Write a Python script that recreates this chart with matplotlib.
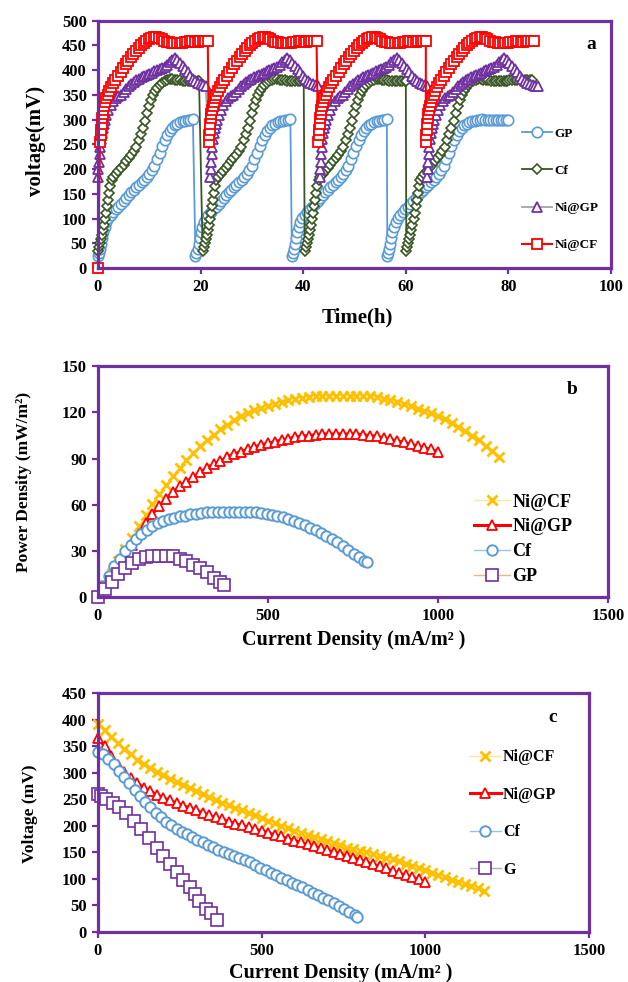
import matplotlib
matplotlib.use("Agg")
import matplotlib.pyplot as plt

plt.rcParams["font.family"] = ["Liberation Serif", "DejaVu Serif"]
plt.rcParams["font.weight"] = "bold"

PURPLE = "#7030A0"
BLUE = "#5B9BD5"
GREEN = "#375623"
RED = "#FF0000"
GOLD = "#FFC000"

# ---------------- panel a : cycling voltage vs time ----------------
# one cycle for every electrode (time relative to cycle start)
gp_rel_t = [0, 0.2, 0.4, 0.6, 0.8, 1.0, 1.3, 1.6, 2.0, 2.5, 3.0, 3.5, 4.0, 4.5, 5.0,
            5.5, 6.0, 6.5, 7.0, 7.5, 8.0, 8.5, 9.0, 9.5, 10.0, 10.5, 11.0, 11.5, 12.0,
            12.5, 13.0, 13.5, 14.0, 14.5, 15.0, 15.5, 16.0, 16.5, 17.0, 17.5, 18.0, 18.5]
gp_rel_v = [25, 30, 38, 48, 60, 72, 84, 94, 102, 108, 114, 119, 124, 130, 136,
            142, 148, 153, 158, 163, 168, 173, 178, 184, 190, 198, 207, 220, 233,
            246, 258, 268, 277, 284, 289, 292, 295, 297, 298, 299, 300, 301]
gp_starts = [0, 19.0, 37.8, 56.4]
gp_tail_t = [75.5, 76, 76.5, 77, 77.5, 78, 78.5, 79, 79.5, 80]
gp_tail_v = [300, 300, 300, 300, 300, 300, 300, 300, 300, 300]

cf_rel_t = [0, 0.2, 0.4, 0.6, 0.8, 1.0, 1.2, 1.4, 1.6, 1.8, 2.0, 2.2, 2.4, 2.7, 3.0,
            3.5, 4.0, 4.5, 5.0, 5.5, 6.0, 6.5, 7.0, 7.5, 8.0, 8.4, 8.8, 9.2, 9.6, 10.0,
            10.4, 10.8, 11.2, 11.6, 12.0, 12.5, 13.0, 13.5, 14.0, 14.5, 15.0, 15.5,
            16.0, 16.5, 17.0, 17.5, 18.0, 18.5, 19.0, 19.5, 19.7]
cf_rel_v = [35, 42, 50, 58, 67, 77, 88, 100, 112, 125, 138, 152, 165, 177, 184,
            190, 196, 202, 209, 216, 222, 229, 236, 245, 258, 270, 284, 298, 313, 328,
            340, 350, 358, 364, 369, 374, 378, 381, 383, 382, 381, 380,
            380, 379, 379, 378, 378, 378, 378, 378, 378]
cf_starts = [0, 20.4, 40.3, 60.1]
cf_tail_t = [80.2, 80.7, 81.2, 81.7, 82.2, 82.7, 83.2, 83.7, 84.2, 84.6]
cf_tail_v = [380, 380, 380, 380, 380, 380, 380, 380, 380, 380]

nigp_rel_t = [0, 0.1, 0.2, 0.3, 0.4, 0.55, 0.7, 0.9, 1.1, 1.3, 1.6, 2.0, 2.5, 3.0,
              3.5, 4.0, 4.5, 5.0, 5.5, 6.0, 6.5, 7.0, 7.5, 8.0, 8.5, 9.0, 9.5, 10.0,
              10.5, 11.0, 11.5, 12.0, 12.5, 13.0, 13.5, 14.0, 14.5, 15.0, 15.5, 16.0,
              16.5, 17.0, 17.5, 18.0, 18.5, 19.0, 19.5, 20.0, 20.5, 21.0]
nigp_rel_v = [185, 200, 215, 230, 245, 260, 272, 283, 292, 300, 310, 320, 330, 338,
              343, 347, 350, 355, 362, 368, 372, 376, 380, 383, 386, 389, 391, 393,
              395, 398, 400, 402, 404, 407, 411, 416, 421, 424, 420, 414,
              408, 402, 396, 389, 383, 378, 374, 371, 369, 367]
nigp_starts = [0, 21.9, 43.2, 64.2]
nigp_tail_t = [85.7]
nigp_tail_v = [367]

nicf_rel_t = [0, 0.1, 0.2, 0.3, 0.4, 0.5, 0.65, 0.8, 1.0, 1.2, 1.5, 1.8, 2.2, 2.6,
              3.0, 3.5, 4.0, 4.5, 5.0, 5.5, 6.0, 6.5, 7.0, 7.5, 8.0, 8.5, 9.0, 9.5,
              10.0, 10.5, 11.0, 11.5, 12.0, 12.5, 13.0, 13.5, 14.0, 14.5, 15.0, 15.5,
              16.0, 16.5, 17.0, 17.5, 18.0, 18.5, 19.0, 19.5, 20.0, 20.5, 21.0]
nicf_rel_v = [255, 268, 280, 292, 303, 312, 320, 328, 336, 343, 350, 357, 365, 373,
              380, 389, 397, 405, 412, 419, 426, 432, 438, 444, 450, 455, 459, 462,
              465, 466, 466, 465, 462, 459, 457, 456, 455, 455, 454, 454,
              455, 456, 457, 458, 458, 457, 457, 458, 459, 459, 458]
nicf_starts = [0.4, 21.6, 42.9, 63.9]
nicf_lead_t = [0]
nicf_lead_v = [0]

# ---------------- panels b and c : polarisation ----------------
nicf_i = [0, 20, 40, 60, 80, 100, 120, 140, 160, 180,
          200, 220, 240, 260, 280, 300, 320, 340, 360, 380,
          400, 420, 440, 460, 480, 500, 520, 540, 560, 580,
          600, 620, 640, 660, 680, 700, 720, 740, 760, 780,
          800, 820, 840, 860, 880, 900, 920, 940, 960, 980,
          1000, 1020, 1040, 1060, 1080, 1100, 1120, 1140, 1160, 1180]
nicf_p = [0, 8, 15.5, 23.5, 31, 38.5, 46, 53.5, 60.5, 67,
          73, 78.5, 84, 89, 93.5, 98, 102, 105.5, 109, 112,
          115, 117.5, 119.5, 121.5, 123, 124.5, 125.5, 127, 128, 129,
          129.5, 130, 130.5, 130.5, 131, 131, 131, 131, 131, 131,
          130.5, 130, 129, 128, 127, 125.5, 124, 122.5, 121, 119.5,
          118, 115.5, 113, 110.5, 108, 105, 102, 98.5, 95, 91]
nicf_v = [393, 381, 368, 356, 345, 335, 325, 317, 309, 301,
          295, 289, 283, 277, 271, 266, 260, 255, 249, 244,
          239, 234, 229, 224, 220, 215, 210, 205, 200, 196,
          191, 187, 183, 179, 175, 171, 167, 163, 159, 156,
          153, 150, 147, 143, 140, 137, 133, 129, 125, 121,
          117, 112, 107, 103, 98, 94, 90, 86, 82, 78]

nigp_i = [0, 20, 40, 60, 80, 100, 120, 140, 160, 180,
          200, 220, 240, 260, 280, 300, 320, 340, 360, 380,
          400, 420, 440, 460, 480, 500, 520, 540, 560, 580,
          600, 620, 640, 660, 680, 700, 720, 740, 760, 780,
          800, 820, 840, 860, 880, 900, 920, 940, 960, 980, 1000]
nigp_p = [0, 7, 13.5, 20.5, 27, 34, 41, 48, 54, 59,
          64, 68, 72, 75, 78, 81, 84, 86.5, 88.5, 91,
          93, 94.5, 96, 97.5, 99, 100, 101, 102, 103, 104,
          104.5, 105, 105.5, 106, 106, 106, 106, 106, 106, 105.5,
          105, 104.5, 103.5, 102.5, 101.5, 100.5, 99.5, 98, 97, 96, 94.5]
nigp_v = [366, 350, 331, 315, 301, 290, 280, 272, 265, 259,
          253, 248, 243, 238, 234, 229, 225, 220, 216, 212,
          208, 204, 201, 197, 194, 190, 187, 183, 180, 176,
          172, 169, 165, 162, 158, 154, 151, 147, 143, 140,
          136, 132, 128, 124, 120, 115, 111, 107, 103, 99, 95]

cf_i = [0, 16, 32, 48, 64, 80, 96, 112, 128, 144,
        160, 176, 192, 208, 224, 240, 256, 272, 288, 304,
        320, 336, 352, 368, 384, 400, 416, 432, 448, 464,
        480, 496, 512, 528, 544, 560, 576, 592, 608, 624,
        640, 656, 672, 688, 704, 720, 736, 752, 768, 784, 792]
cf_p = [0, 7, 14, 20, 25, 30, 34, 38, 41, 43.5,
        46, 48, 49.5, 50.5, 51.5, 52.5, 53, 54, 54, 54.5,
        55, 55, 55.5, 55.5, 55.5, 55.5, 55.5, 55, 55, 55,
        54.5, 54, 53.5, 52.5, 52, 50.5, 49.5, 48, 47, 45,
        43.5, 41.5, 39.5, 37.5, 35.5, 33, 30.5, 28, 26, 23.5, 22.5]
cf_v = [340, 335, 327, 316, 304, 293, 281, 268, 256, 245,
        235, 225, 216, 208, 201, 195, 189, 184, 179, 174,
        169, 164, 160, 155, 151, 147, 143, 139, 135, 131,
        126, 121, 116, 112, 107, 102, 98, 93, 89, 84,
        79, 74, 69, 64, 60, 54, 48, 43, 37, 31, 29]

gp_i = [0, 20, 40, 60, 80, 100, 120, 140, 160, 180, 200, 220, 240, 260, 280, 300,
        320, 340, 360, 370]
gp_p = [0, 5, 10, 15, 19, 22, 24.5, 26, 26.5, 27, 27, 26.5, 25, 23.5, 21, 19, 16,
        12.5, 10, 8]

g_i = [0, 10, 25, 45, 65, 85, 110, 130, 155, 180, 200, 220, 240, 260, 280, 295, 310,
       330, 345, 365]
g_v = [260, 256, 250, 244, 236, 224, 210, 195, 178, 159, 144, 128, 113, 97, 84, 72,
       59, 44, 35, 22]


def join_cycles(starts, rel_t, rel_v, tail_t=(), tail_v=(), lead_t=(), lead_v=()):
    t, v = list(lead_t), list(lead_v)
    for s in starts:
        t += [s + x for x in rel_t]
        v += list(rel_v)
    return t + list(tail_t), v + list(tail_v)


def style_axes(ax):
    for sp in ax.spines.values():
        sp.set_color(PURPLE)
        sp.set_linewidth(2.3)
    ax.tick_params(direction="out", length=4, width=1.6, color=PURPLE,
                   labelsize=12, pad=4)
    for lab in ax.get_xticklabels() + ax.get_yticklabels():
        lab.set_fontweight("bold")


fig = plt.figure(figsize=(6.28, 9.82), dpi=100)
ax_a = fig.add_axes([0.156, 0.727, 0.817, 0.252])
ax_b = fig.add_axes([0.156, 0.392, 0.812, 0.235])
ax_c = fig.add_axes([0.156, 0.051, 0.782, 0.243])

# panel a
t, v = join_cycles(gp_starts, gp_rel_t, gp_rel_v, gp_tail_t, gp_tail_v)
ax_a.plot(t, v, color=BLUE, lw=1.3, marker="o", ms=7.5, mfc="white", mec=BLUE,
          mew=1.2, label="GP", clip_on=False)
t, v = join_cycles(cf_starts, cf_rel_t, cf_rel_v, cf_tail_t, cf_tail_v)
ax_a.plot(t, v, color=GREEN, lw=1.3, marker="D", ms=5.5, mfc="white", mec=GREEN,
          mew=1.2, label="Cf", clip_on=False)
t, v = join_cycles(nigp_starts, nigp_rel_t, nigp_rel_v, nigp_tail_t, nigp_tail_v)
ax_a.plot(t, v, color="#A5A5A5", lw=1.3, marker="^", ms=7, mfc="white", mec=PURPLE,
          mew=1.3, label="Ni@GP", clip_on=False)
t, v = join_cycles(nicf_starts, nicf_rel_t, nicf_rel_v, lead_t=nicf_lead_t,
                   lead_v=nicf_lead_v)
ax_a.plot(t, v, color=RED, lw=1.5, marker="s", ms=6.5, mfc="white", mec=RED,
          mew=1.3, label="Ni@CF", clip_on=False)

ax_a.set_xlim(0, 100)
ax_a.set_ylim(0, 500)
ax_a.set_xticks([0, 20, 40, 60, 80, 100])
ax_a.set_yticks(range(0, 501, 50))
style_axes(ax_a)
ax_a.text(0.505, -0.2, "Time(h)", transform=ax_a.transAxes, ha="center",
          va="center", fontsize=15, fontweight="bold")
ax_a.text(-0.12, 0.514, "voltage(mV)", transform=ax_a.transAxes, ha="center",
          va="center", rotation=90, fontsize=15, fontweight="bold")
ax_a.text(0.961, 0.903, "a", transform=ax_a.transAxes, ha="center", va="center",
          fontsize=14, fontweight="bold")
ax_a.legend(loc="upper left", bbox_to_anchor=(0.826, 0.569), frameon=False,
            numpoints=1, handlelength=2.3, handletextpad=0.2, labelspacing=1.9,
            borderpad=0, borderaxespad=0, prop={"size": 9.5, "weight": "bold"})

# panel b
ax_b.plot(nicf_i, nicf_p, color="#FFE699", lw=1.0, marker="x", ms=7.5, mec=GOLD,
          mew=2.0, label="Ni@CF", clip_on=False)
ax_b.plot(nigp_i, nigp_p, color=RED, lw=2.2, marker="^", ms=7.5, mfc="white", mec=RED,
          mew=1.3, label="Ni@GP", clip_on=False)
ax_b.plot(cf_i, cf_p, color="#9DC3E6", lw=1.0, marker="o", ms=7.5, mfc="white",
          mec=BLUE, mew=1.4, label="Cf", clip_on=False)
ax_b.plot(gp_i, gp_p, color="#F4B183", lw=1.0, marker="s", ms=8, mfc="white",
          mec=PURPLE, mew=1.2, label="GP", clip_on=False)
ax_b.set_xlim(0, 1500)
ax_b.set_ylim(0, 150)
ax_b.set_xticks([0, 500, 1000, 1500])
ax_b.set_yticks(range(0, 151, 30))
style_axes(ax_b)
ax_b.text(0.502, -0.186, "Current Density (mA/m² )", transform=ax_b.transAxes,
          ha="center", va="center", fontsize=14.5, fontweight="bold")
ax_b.text(-0.145, 0.498, "Power Density (mW/m²)", transform=ax_b.transAxes,
          ha="center", va="center", rotation=90, fontsize=12.5, fontweight="bold")
ax_b.text(0.929, 0.9, "b", transform=ax_b.transAxes, ha="center", va="center",
          fontsize=14, fontweight="bold")
ax_b.legend(loc="upper left", bbox_to_anchor=(0.737, 0.448), frameon=False,
            numpoints=1, handlelength=2.0, handletextpad=0.15, labelspacing=0.43,
            borderpad=0, borderaxespad=0, prop={"size": 13, "weight": "bold"})

# panel c
ax_c.plot(nicf_i, nicf_v, color="#FFE699", lw=1.0, marker="x", ms=7.5, mec=GOLD,
          mew=2.0, label="Ni@CF", clip_on=False)
ax_c.plot(nigp_i, nigp_v, color=RED, lw=2.2, marker="^", ms=7.5, mfc="white", mec=RED,
          mew=1.3, label="Ni@GP", clip_on=False)
ax_c.plot(cf_i, cf_v, color="#9DC3E6", lw=1.0, marker="o", ms=7.5, mfc="white",
          mec=BLUE, mew=1.4, label="Cf", clip_on=False)
ax_c.plot(g_i, g_v, color="#B4A7D6", lw=1.0, marker="s", ms=8, mfc="white",
          mec=PURPLE, mew=1.2, label="G", clip_on=False)
ax_c.set_xlim(0, 1500)
ax_c.set_ylim(0, 450)
ax_c.set_xticks([0, 500, 1000, 1500])
ax_c.set_yticks(range(0, 451, 50))
style_axes(ax_c)
ax_c.text(0.495, -0.172, "Current Density (mA/m² )", transform=ax_c.transAxes,
          ha="center", va="center", fontsize=14.5, fontweight="bold")
ax_c.text(-0.138, 0.496, "Voltage (mV)", transform=ax_c.transAxes, ha="center",
          va="center", rotation=90, fontsize=12.5, fontweight="bold")
ax_c.text(0.925, 0.9, "c", transform=ax_c.transAxes, ha="center", va="center",
          fontsize=14, fontweight="bold")
ax_c.legend(loc="upper left", bbox_to_anchor=(0.758, 0.765), frameon=False,
            numpoints=1, handlelength=1.9, handletextpad=0.15, labelspacing=1.35,
            borderpad=0, borderaxespad=0, prop={"size": 11.5, "weight": "bold"})

fig.savefig("out.png", dpi=100)
